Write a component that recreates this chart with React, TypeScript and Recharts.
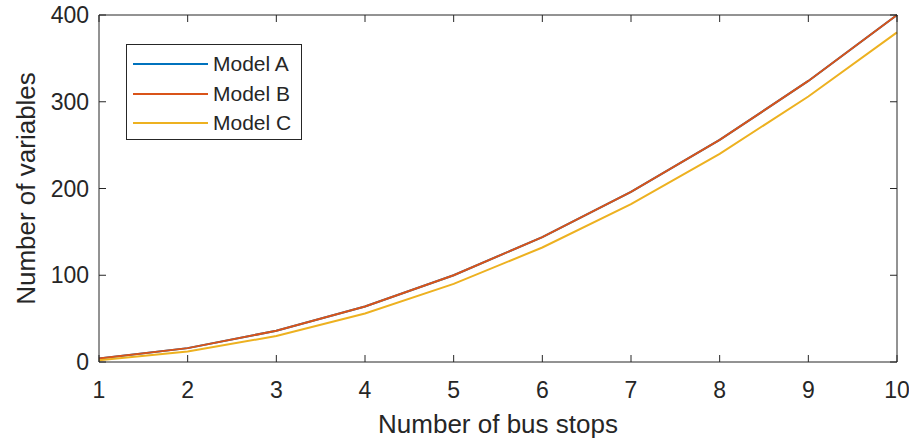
import React from 'react';
import { LineChart, Line, XAxis, YAxis, Legend } from 'recharts';

const busStops = [1, 2, 3, 4, 5, 6, 7, 8, 9, 10];
const modelA = [4, 16, 36, 64, 100, 144, 196, 256, 324, 400];
const modelB = [4, 16, 36, 64, 100, 144, 196, 256, 324, 400];
const modelC = [2, 12, 30, 56, 90, 132, 182, 240, 306, 380];
const xTicks = [1, 2, 3, 4, 5, 6, 7, 8, 9, 10];
const yTicks = [0, 100, 200, 300, 400];

const data = busStops.map((s, i) => ({ stops: s, A: modelA[i], B: modelB[i], C: modelC[i] }));

const FONT = '"Liberation Sans", Arial, Helvetica, sans-serif';
const INK = '#262626';

const LegendBox = (props: any) => {
  const payload = props.payload || [];
  return (
    <div
      style={{
        boxSizing: 'border-box',
        width: 176,
        height: 96,
        border: `1px solid ${INK}`,
        background: '#fff',
        paddingTop: 4,
        fontFamily: FONT,
      }}
    >
      {payload.map((p: any) => (
        <div key={p.value} style={{ height: 29.7, display: 'flex', alignItems: 'center' }}>
          <svg width={86} height={10} style={{ marginLeft: 6 }}>
            <line x1={0} x2={75} y1={5} y2={5} stroke={p.color} strokeWidth={2} />
          </svg>
          <span style={{ fontSize: 21, color: INK, marginLeft: -6, lineHeight: '22px' }}>{p.value}</span>
        </div>
      ))}
    </div>
  );
};

export default function App() {
  return (
    <div style={{ position: 'absolute', left: 0, top: 0, width: 909, height: 438, background: '#fff' }}>
      <LineChart width={909} height={438} data={data} margin={{ top: 14, right: 11, bottom: 0, left: 0 }}>
        <XAxis
          dataKey="stops"
          type="number"
          domain={[1, 10]}
          ticks={xTicks}
          height={76}
          tickSize={-7}
          tickMargin={27}
          axisLine={{ stroke: INK, strokeWidth: 1 }}
          tickLine={{ stroke: INK, strokeWidth: 1 }}
          tick={{ fill: INK, fontSize: 23, fontFamily: FONT }}
          label={{
            content: (lp: any) => {
              const vb = lp.viewBox;
              return (
                <text x={vb.x + vb.width / 2} y={433} textAnchor="middle" fill={INK} fontSize={26} fontFamily={FONT}>
                  Number of bus stops
                </text>
              );
            },
          }}
        />
        <XAxis
          xAxisId="top"
          orientation="top"
          dataKey="stops"
          type="number"
          domain={[1, 10]}
          ticks={xTicks}
          height={1}
          tickSize={-7}
          axisLine={{ stroke: INK, strokeWidth: 1 }}
          tickLine={{ stroke: INK, strokeWidth: 1 }}
          tick={() => <g />}
        />
        <YAxis
          type="number"
          domain={[0, 400]}
          ticks={yTicks}
          width={99}
          tickSize={-7}
          tickMargin={17}
          axisLine={{ stroke: INK, strokeWidth: 1 }}
          tickLine={{ stroke: INK, strokeWidth: 1 }}
          tick={{ fill: INK, fontSize: 23, fontFamily: FONT }}
          label={{
            content: (lp: any) => {
              const vb = lp.viewBox;
              const cx = 26;
              const cy = vb.y + vb.height / 2;
              return (
                <text
                  x={cx}
                  y={cy}
                  transform={`rotate(-90 ${cx} ${cy})`}
                  textAnchor="middle"
                  dominantBaseline="central"
                  fill={INK}
                  fontSize={26}
                  fontFamily={FONT}
                >
                  Number of variables
                </text>
              );
            },
          }}
        />
        <YAxis
          yAxisId="right"
          orientation="right"
          type="number"
          domain={[0, 400]}
          ticks={yTicks}
          width={1}
          tickSize={-7}
          axisLine={{ stroke: INK, strokeWidth: 1 }}
          tickLine={{ stroke: INK, strokeWidth: 1 }}
          tick={() => <g />}
        />
        <Legend
          layout="vertical"
          align="center"
          verticalAlign="middle"
          wrapperStyle={{ left: 126, top: 44, width: 176, height: 96 }}
          content={<LegendBox />}
        />
        <Line
          xAxisId="top"
          yAxisId="right"
          type="linear"
          dataKey="A"
          name="Model A"
          stroke="#0072BD"
          strokeWidth={2}
          dot={false}
          isAnimationActive={false}
        />
        <Line type="linear" dataKey="B" name="Model B" stroke="#D95319" strokeWidth={2} dot={false} isAnimationActive={false} />
        <Line type="linear" dataKey="C" name="Model C" stroke="#EDB120" strokeWidth={2} dot={false} isAnimationActive={false} />
      </LineChart>
    </div>
  );
}
